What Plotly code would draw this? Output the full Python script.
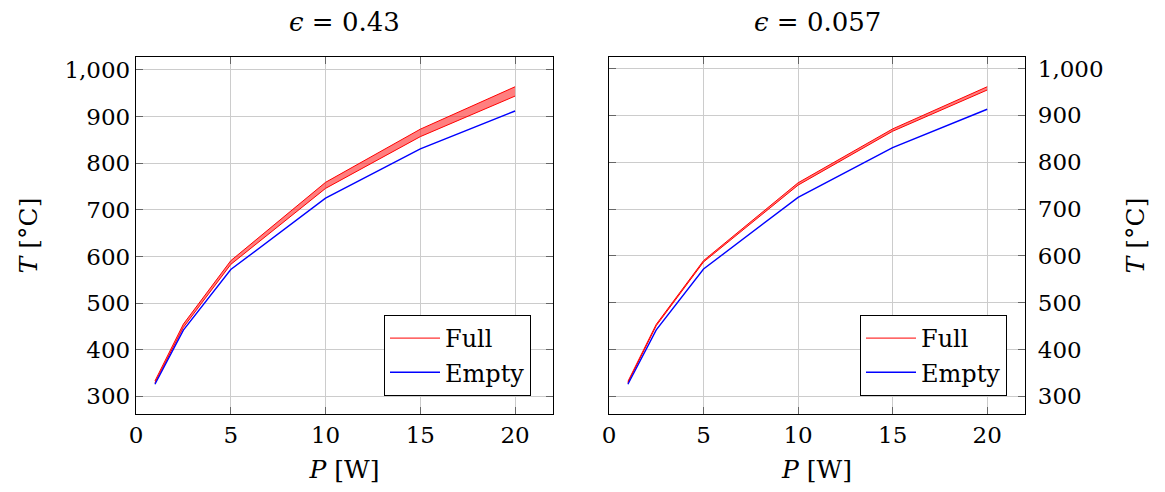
import plotly.graph_objects as go

P = [1, 2.5, 5, 10, 15, 20]

# left panel (epsilon = 0.43)
full_lo_a = [329, 448, 583, 746, 857, 944]
full_hi_a = [333, 455, 591, 759, 873, 964]
empty_a = [326, 442, 572, 725, 831, 912]

# right panel (epsilon = 0.057)
full_lo_b = [329, 451, 587, 751, 866, 954]
full_hi_b = [332, 454, 590, 756, 871, 961]
empty_b = [326, 442, 572, 725, 831, 913]

titles = ["<i>ϵ</i> = 0.43", "<i>ϵ</i> = 0.057"]
legend_names = ["Full", "Empty"]
x_ticks = [0, 5, 10, 15, 20]
y_ticks = [300, 400, 500, 600, 700, 800, 900, 1000]

OFF = 8  # page body margin
W, H = 1165 - OFF, 492 - OFF
ML, MT = 136 - OFF, 57 - OFF
MR = W - (1025 - OFF)
MB = H - (414 - OFF)
PW = W - ML - MR
PH = H - MT - MB

FONT = "DejaVu Serif"
RED = "#ff0000"
BLUE = "#0000ff"

fig = go.Figure()


def yrange(*series):
    lo = min(min(s) for s in series)
    hi = max(max(s) for s in series)
    pad = 0.1 * (hi - lo)
    return [lo - pad, hi + pad]


panels = [
    ("x", "y", "legend", full_lo_a, full_hi_a, empty_a),
    ("x2", "y2", "legend2", full_lo_b, full_hi_b, empty_b),
]
for xa, ya, lg, lo, hi, em in panels:
    fig.add_trace(go.Scatter(x=P, y=lo, mode="lines", line=dict(color=RED, width=1),
                             name=legend_names[0], xaxis=xa, yaxis=ya, legend=lg))
    fig.add_trace(go.Scatter(x=P, y=hi, mode="lines", line=dict(color=RED, width=1),
                             fill="tonexty", fillcolor="rgba(255,0,0,0.5)",
                             showlegend=False, xaxis=xa, yaxis=ya))
    fig.add_trace(go.Scatter(x=P, y=em, mode="lines", line=dict(color=BLUE, width=1.4),
                             name=legend_names[1], xaxis=xa, yaxis=ya, legend=lg))

d1 = [0, 417 / PW]
d2 = [(609 - 136) / PW, 1]

axis_common = dict(showline=True, linecolor="black", linewidth=1.3, mirror="ticks",
                   ticks="inside", ticklen=7, tickcolor="#666", tickwidth=1,
                   showgrid=True, gridcolor="#cccccc", gridwidth=1, zeroline=False,
                   automargin=False,
                   tickfont=dict(family=FONT, size=23, color="black"))

TFONT = dict(family=FONT, size=25, color="black")
xtitle = dict(text="<i>P</i> [W]", font=TFONT, standoff=13)
ytitle = dict(text="<i>T</i> [°C]", font=TFONT, standoff=19)
ytitle2 = dict(text="<i>T</i> [°C]", font=TFONT, standoff=23)

leg_common = dict(xanchor="right", y=(414 - 396) / PH, yanchor="bottom",
                  bgcolor="white", bordercolor="black", borderwidth=1,
                  traceorder="normal", itemwidth=50,
                  font=dict(family=FONT, size=24, color="black"), tracegroupgap=0)

fig.update_layout(
    width=W, height=H,
    margin=dict(l=ML, r=MR, t=MT, b=MB, autoexpand=False),
    plot_bgcolor="white", paper_bgcolor="white",
    xaxis=dict(domain=d1, range=[0, 22], tickvals=x_ticks, anchor="y", title=xtitle, **axis_common),
    yaxis=dict(domain=[0, 1], range=yrange(full_lo_a, full_hi_a, empty_a), tickvals=y_ticks,
               tickformat=",d", anchor="x", title=ytitle, **axis_common),
    xaxis2=dict(domain=d2, range=[0, 22], tickvals=x_ticks, anchor="y2", title=xtitle, **axis_common),
    yaxis2=dict(domain=[0, 1], range=yrange(full_lo_b, full_hi_b, empty_b), tickvals=y_ticks,
                tickformat=",d", anchor="x2", side="right", title=ytitle2,
                ticklabelstandoff=7, **axis_common),
    legend=dict(x=(531 - 136) / PW, **leg_common),
    legend2=dict(x=(1007 - 136) / PW, **leg_common),
    annotations=[
        dict(text=titles[0], xref="paper", yref="paper", x=(d1[0] + d1[1]) / 2, y=1,
             yshift=35, xanchor="center", yanchor="middle", showarrow=False,
             font=dict(family=FONT, size=26, color="black")),
        dict(text=titles[1], xref="paper", yref="paper", x=(d2[0] + d2[1]) / 2, y=1,
             yshift=35, xanchor="center", yanchor="middle", showarrow=False,
             font=dict(family=FONT, size=26, color="black")),
    ],
)

fig.write_html("out.html")
